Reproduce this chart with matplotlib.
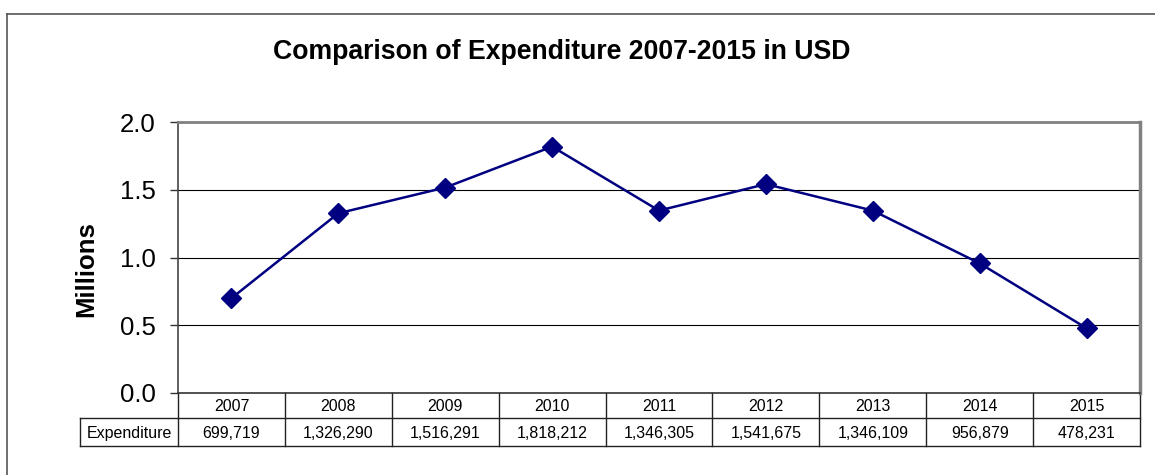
import matplotlib
matplotlib.use("Agg")
import matplotlib.pyplot as plt
from matplotlib.lines import Line2D

plt.rcParams['font.family'] = ['Liberation Sans', 'DejaVu Sans']

years = ["2007", "2008", "2009", "2010", "2011", "2012", "2013", "2014", "2015"]
expenditure = [699719, 1326290, 1516291, 1818212, 1346305, 1541675, 1346109, 956879, 478231]
yticks = [0.0, 0.5, 1.0, 1.5, 2.0]

W, H = 1155, 475
fig = plt.figure(figsize=(W / 100, H / 100), dpi=100)

# outer chart border (top and left visible)
fig.add_artist(Line2D([7 / W, 1.0], [1 - 14 / H, 1 - 14 / H], color='#555555', lw=1.2))
fig.add_artist(Line2D([7 / W, 7 / W], [0, 1 - 14 / H], color='#555555', lw=1.2))

x0, x1, ytop, ybot = 178, 1140, 122, 393
ax = fig.add_axes([x0 / W, 1 - ybot / H, (x1 - x0) / W, (ybot - ytop) / H])

n = len(years)
xs = list(range(n))
vals = [v / 1e6 for v in expenditure]
ax.plot(xs, vals, color='#000080', lw=1.8, marker='D', markersize=10,
        markerfacecolor='#000080', markeredgecolor='#000080', zorder=3)

ax.set_xlim(-0.5, n - 0.5)
ax.set_ylim(0, 2.0)
ax.set_yticks(yticks)
ax.set_yticklabels([f"{t:.1f}" for t in yticks], fontsize=18.5)
ax.set_xticks([])
ax.tick_params(axis='y', length=6, width=1, color='#333333', pad=10)
for t in yticks[1:-1]:
    ax.axhline(t, color='black', lw=0.8, zorder=1)

ax.spines['left'].set_color('#444444')
ax.spines['left'].set_linewidth(1.2)
ax.spines['bottom'].set_color('#333333')
ax.spines['bottom'].set_linewidth(1.2)
ax.spines['top'].set_color('#808080')
ax.spines['top'].set_linewidth(2)
ax.spines['right'].set_color('#808080')
ax.spines['right'].set_linewidth(2.5)

fig.text(86 / W, 1 - 269 / H, "Millions", rotation=90, ha='center', va='center',
         fontsize=18.5, fontweight='bold')

fig.text(562 / W, 1 - 52 / H, "Comparison of Expenditure 2007-2015 in USD",
         ha='center', va='center', fontsize=19.2, fontweight='bold')

# data table below the axes
ph = ybot - ytop
r1 = -25 / ph
r2 = -53 / ph
lbl_left = (80 - x0) / (x1 - x0)
tr = ax.transAxes
lk = dict(transform=tr, clip_on=False, color='#222222', lw=1)
ax.add_line(Line2D([0, 1], [r1, r1], **lk))
ax.add_line(Line2D([lbl_left, 1], [r2, r2], **lk))
ax.add_line(Line2D([lbl_left, 0], [r1, r1], **lk))
ax.add_line(Line2D([lbl_left, lbl_left], [r1, r2], **lk))
for i in range(n + 1):
    xf = i / n
    ax.add_line(Line2D([xf, xf], [0, r2], **lk))
for i in range(n):
    xc = (i + 0.5) / n
    ax.text(xc, r1 / 2 - 0.005, years[i], transform=tr, ha='center', va='center', fontsize=11.5)
    ax.text(xc, (r1 + r2) / 2 - 0.005, f"{expenditure[i]:,}", transform=tr, ha='center',
            va='center', fontsize=11.5)
ax.text((lbl_left + 0) / 2, (r1 + r2) / 2 - 0.005, "Expenditure", transform=tr, ha='center',
        va='center', fontsize=11.5)

fig.savefig("out.png", dpi=100)
